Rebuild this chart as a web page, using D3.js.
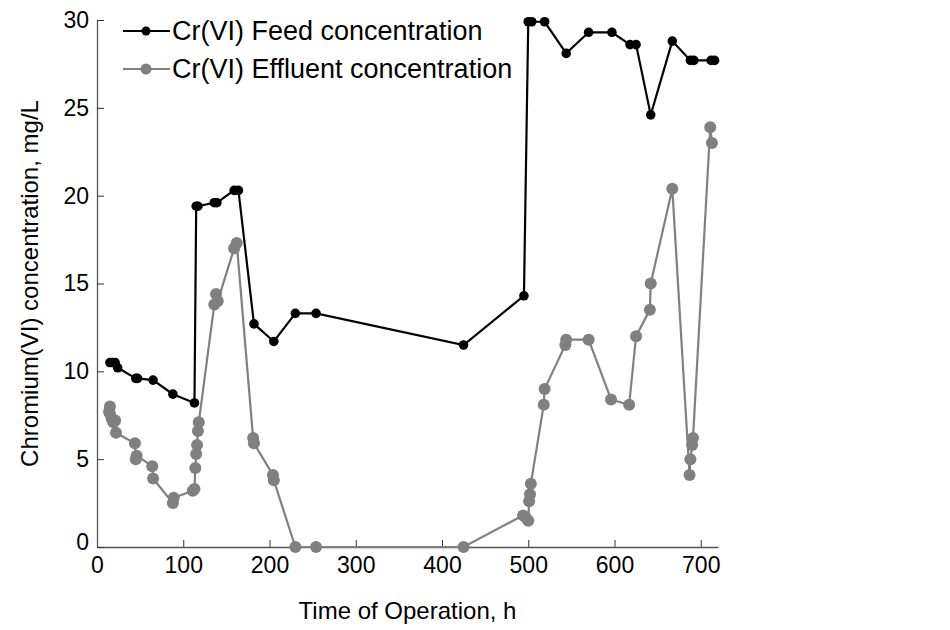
<!DOCTYPE html>
<html>
<head>
<meta charset="utf-8">
<script src="https://d3js.org/d3.v7.min.js"></script>
<style>
body { margin: 0; background: #fff; }
text { font-family: "Liberation Sans", Arial, sans-serif; }
</style>
</head>
<body>
<svg width="950" height="630"></svg>
<script>
// time (h) and Cr(VI) values
var feedTime = [15, 18, 21, 24, 45, 47, 65, 88, 113, 115, 117, 136, 139, 159, 164, 182, 205, 230, 254, 425, 495, 500, 504, 519, 544, 570, 597, 618, 625, 642, 667, 688, 692, 712, 716];
var feedConc = [10.5, 10.5, 10.5, 10.2, 9.6, 9.6, 9.5, 8.7, 8.2, 19.4, 19.4, 19.6, 19.6, 20.3, 20.3, 12.7, 11.7, 13.3, 13.3, 11.5, 14.3, 29.9, 29.9, 29.9, 28.1, 29.3, 29.3, 28.6, 28.6, 24.6, 28.8, 27.7, 27.7, 27.7, 27.7];

var effTime = [14, 15, 15, 17, 19, 21, 22, 44, 45, 46, 64, 65, 88, 89, 111, 113, 114, 115, 116, 117, 118, 136, 138, 140, 159, 162, 181, 182, 204, 205, 230, 254, 425, 494, 497, 500, 501, 502, 503, 518, 519, 543, 544, 570, 596, 617, 625, 641, 642, 667, 687, 688, 690, 691, 711, 713];
var effConc = [7.7, 8.0, 7.6, 7.3, 7.1, 7.2, 6.5, 5.9, 5.0, 5.2, 4.6, 3.9, 2.5, 2.8, 3.2, 3.3, 4.5, 5.3, 5.8, 6.6, 7.1, 13.8, 14.4, 14.0, 17.0, 17.3, 6.2, 5.9, 4.1, 3.8, 0, 0, 0, 1.8, 1.7, 1.5, 2.6, 3.0, 3.6, 8.1, 9.0, 11.5, 11.8, 11.8, 8.4, 8.1, 12.0, 13.5, 15.0, 20.4, 4.1, 5.0, 5.8, 6.2, 23.9, 23.0];

var xTicks = [0, 100, 200, 300, 400, 500, 600, 700];
var yTicks = [0, 5, 10, 15, 20, 25, 30];

var seriesNames = ["Cr(VI) Feed concentration", "Cr(VI) Effluent concentration"];
var seriesColors = ["#000000", "#808080"];

var svg = d3.select("svg"),
    plotLeft = 97, plotRight = 718, plotTop = 20, plotBottom = 547;

var x = d3.scaleLinear().domain([0, 720]).range([plotLeft, plotRight]);
var y = d3.scaleLinear().domain([0, 30]).range([plotBottom, plotTop]);

// axes, ticks point inward
var xAxis = svg.append("g")
    .attr("transform", "translate(0," + plotBottom + ")")
    .call(d3.axisBottom(x).tickValues(xTicks).tickSizeInner(-7).tickSizeOuter(0).tickPadding(10));
var yAxis = svg.append("g")
    .attr("transform", "translate(" + plotLeft + ",0)")
    .call(d3.axisLeft(y).tickValues(yTicks).tickSizeInner(-7).tickSizeOuter(0).tickPadding(8));

[xAxis, yAxis].forEach(function(a) {
    a.select(".domain").attr("stroke", "#555").attr("stroke-width", 1.3);
    a.selectAll(".tick line").attr("stroke", "#333").attr("stroke-width", 1);
    a.selectAll(".tick text").attr("fill", "#000").style("font-size", "23px");
});
// the y "0" sits a bit higher than the others in the original
yAxis.selectAll(".tick text").filter(function(d) { return d === 0; }).attr("dy", "0.1em");

var line = d3.line().x(function(d) { return x(d[0]); }).y(function(d) { return y(d[1]); });

var effData = d3.zip(effTime, effConc);
var feedData = d3.zip(feedTime, feedConc);

svg.append("path").datum(effData).attr("d", line)
    .attr("fill", "none").attr("stroke", seriesColors[1]).attr("stroke-width", 2.2);
svg.append("g").selectAll("circle").data(effData).enter().append("circle")
    .attr("cx", function(d) { return x(d[0]); })
    .attr("cy", function(d) { return y(d[1]); })
    .attr("r", 6).attr("fill", seriesColors[1]);

svg.append("path").datum(feedData).attr("d", line)
    .attr("fill", "none").attr("stroke", seriesColors[0]).attr("stroke-width", 2.2);
svg.append("g").selectAll("circle").data(feedData).enter().append("circle")
    .attr("cx", function(d) { return x(d[0]); })
    .attr("cy", function(d) { return y(d[1]); })
    .attr("r", 4.8).attr("fill", seriesColors[0]);

// legend
var legend = svg.append("g").selectAll("g").data(seriesNames).enter().append("g")
    .attr("transform", function(d, i) { return "translate(123," + (31 + i * 38) + ")"; });
legend.append("line").attr("x1", 0).attr("x2", 47).attr("y1", 0).attr("y2", 0)
    .attr("stroke", function(d, i) { return seriesColors[i]; }).attr("stroke-width", 2.2);
legend.append("circle").attr("cx", 23).attr("cy", 0)
    .attr("r", function(d, i) { return i == 0 ? 4.5 : 5.5; })
    .attr("fill", function(d, i) { return seriesColors[i]; });
legend.append("text").attr("x", 49).attr("y", 0).attr("dy", "0.35em")
    .text(function(d) { return d; }).style("font-size", "27px");

// axis titles
svg.append("text").attr("x", (plotLeft + plotRight) / 2).attr("y", 619)
    .attr("text-anchor", "middle").style("font-size", "24px").text("Time of Operation, h");
svg.append("text").attr("transform", "translate(30," + ((plotTop + plotBottom) / 2) + ") rotate(-90)")
    .attr("text-anchor", "middle").attr("dy", "0.35em").style("font-size", "24px")
    .text("Chromium(VI) concentration, mg/L");
</script>
</body>
</html>
